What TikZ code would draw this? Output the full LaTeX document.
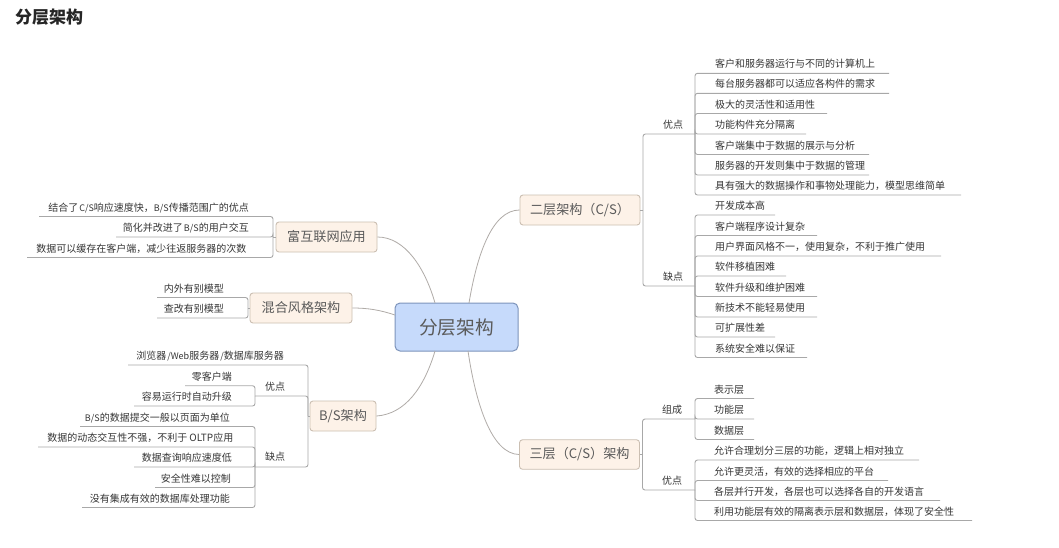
\documentclass[tikz,border=0pt]{standalone}
\usepackage{fontspec}
\setmainfont{Noto Sans CJK SC}
\definecolor{linegray}{HTML}{A8A8A8}
\definecolor{curvegray}{HTML}{B0ACA8}
\definecolor{inktext}{HTML}{363636}
\definecolor{maintext}{HTML}{5A5A5A}
\definecolor{CBBFB2}{HTML}{CBBFB2}
\definecolor{FDF2E8}{HTML}{FDF2E8}
\definecolor{7D94BB}{HTML}{7D94BB}
\definecolor{C6DAFB}{HTML}{C6DAFB}
\tikzset{
  conn/.style={draw=linegray,line width=0.9pt,rounded corners=2.5pt},
  curve/.style={draw=curvegray,line width=0.8pt},
  rowtxt/.style={inner sep=0pt,text=inktext,font=\fontsize{10}{12}\selectfont},
  mainbox/.style={draw=CBBFB2,fill=FDF2E8,line width=0.9pt,rounded corners=3pt,inner sep=0pt,text=maintext,font=\fontsize{13.1}{15}\selectfont},
  rootbox/.style={draw=7D94BB,fill=C6DAFB,line width=1pt,rounded corners=5pt,inner sep=0pt,text=maintext,font=\fontsize{18.7}{22}\selectfont},
}
% right-growing row: id, hub, line y, text x, line end x, text
\newcommand{\rowR}[6]{%
  \coordinate (#1e) at (#5,#3);
  \node[rowtxt,anchor=base west] (#1) at (#4,#3-5.4) {#6};
  \draw[conn] (#2) |- (#1e);
}
% left-growing row: id, hub, line y, text right x, line end x, text
\newcommand{\rowL}[6]{%
  \coordinate (#1e) at (#5,#3);
  \node[rowtxt,anchor=base east] (#1) at (#4,#3-5.4) {#6};
  \draw[conn] (#2) |- (#1e);
}
\newcommand{\mainbox}[6]{%
  \node[mainbox,minimum width=#4pt,minimum height=#5pt] (#1) at (#2,#3) {#6};
}
\newcommand{\lat}[1]{{\fontsize{9}{12}\selectfont #1}}
\begin{document}
\begin{tikzpicture}[x=1pt,y=-1pt]
\useasboundingbox (0,0) rectangle (1059,547);
\fill[white] (0,0) rectangle (1059,547);
\node[inner sep=0pt,anchor=base west,text=black!85,font=\fontsize{17}{20}\selectfont\bfseries] (title) at (15,23) {分层架构};

\node[rootbox,minimum width=123pt,minimum height=48pt] (root) at (456.5,327) {分层架构};
\mainbox{cs}{580}{210}{120}{30}{二层架构（C/S）}
\mainbox{tcs}{579.5}{454.5}{120}{29.5}{三层（C/S）架构}
\mainbox{ria}{326.5}{237}{101}{30}{富互联网应用}
\mainbox{mix}{301}{308}{102}{30}{混合风格架构}
\mainbox{bs}{343}{416}{66}{30}{B/S架构}

% curves from the root
\coordinate (ra) at (469,303);
\coordinate (rb) at (468,351);
\coordinate (rc) at (435,351);
\coordinate (rd) at (395,315);
\coordinate (re) at (435,303);
\draw[curve] (ra) .. controls (477,255) and (492,210) .. (cs.west);
\draw[curve] (rb) .. controls (476,405) and (492,454) .. (tcs.west);
\draw[curve] (rc) .. controls (424,388) and (405,414) .. (bs.east);
\draw[curve] (rd) .. controls (380,310) and (368,308) .. (mix.east);
\draw[curve] (re) .. controls (425,268) and (405,237) .. (ria.east);

% two-tier
\coordinate (csj) at (643,210);
\coordinate (csa) at (695,134);
\coordinate (csb) at (695,286);
\draw[conn] (cs.east) -- (csj);
\draw[conn] (csj) |- (csa);
\draw[conn] (csj) |- (csb);
\node[rowtxt] (csal) at (673,125) {优点};
\node[rowtxt] (csbl) at (673,277) {缺点};
\rowR{a1}{csa}{73.3}{715}{889}{客户和服务器运行与不同的计算机上}
\rowR{a2}{csa}{93.3}{715}{889}{每台服务器都可以适应各构件的需求}
\rowR{a3}{csa}{113.5}{715}{827}{极大的灵活性和适用性}
\rowR{a4}{csa}{134}{715}{806}{功能构件充分隔离}
\rowR{a5}{csa}{154.5}{715}{869}{客户端集中于数据的展示与分析}
\rowR{a6}{csa}{175}{715}{869}{服务器的开发则集中于数据的管理}
\rowR{a7}{csa}{195}{715}{961}{具有强大的数据操作和事物处理能力，模型思维简单}
\rowR{b1}{csb}{215}{715}{775}{开发成本高}
\rowR{b2}{csb}{235.5}{715}{817}{客户端程序设计复杂}
\rowR{b3}{csb}{256}{715}{941}{用户界面风格不一，使用复杂，不利于推广使用}
\rowR{b4}{csb}{276}{715}{786}{软件移植困难}
\rowR{b5}{csb}{296.5}{715}{817}{软件升级和维护困难}
\rowR{b6}{csb}{317}{715}{817}{新技术不能轻易使用}
\rowR{b7}{csb}{337}{715}{775}{可扩展性差}
\rowR{b8}{csb}{357.5}{715}{807}{系统安全难以保证}

% three-tier
\coordinate (tj) at (642.5,454.5);
\coordinate (ta) at (695,419);
\coordinate (tb) at (695,490);
\draw[conn] (tcs.east) -- (tj);
\draw[conn] (tj) |- (ta);
\draw[conn] (tj) |- (tb);
\node[rowtxt] (tal) at (672,409.5) {组成};
\node[rowtxt] (tbl) at (672,481) {优点};
\rowR{c1}{ta}{398.5}{714}{754}{表示层}
\rowR{c2}{ta}{419}{714}{754}{功能层}
\rowR{c3}{ta}{439.5}{714}{754}{数据层}
\rowR{d1}{tb}{460}{714}{919}{允许合理划分三层的功能，逻辑上相对独立}
\rowR{d2}{tb}{480.5}{714}{888}{允许更灵活，有效的选择相应的平台}
\rowR{d3}{tb}{500.5}{714}{940}{各层并行开发，各层也可以选择各自的开发语言}
\rowR{d4}{tb}{520.5}{714}{972}{利用功能层有效的隔离表示层和数据层，体现了安全性}

% rich internet
\coordinate (riaj) at (273,237);
\draw[conn] (ria.west) -- (riaj);
\rowL{e1}{riaj}{216.5}{249}{39}{结合了\kern1pt\lat{C/S}响应速度快，\lat{B/S}传播范围广的优点}
\rowL{e2}{riaj}{237}{249}{116}{简化并改进了\kern1pt\lat{B/S}的用户交互}
\rowL{e3}{riaj}{257.5}{246.5}{27}{数据可以缓存在客户端，减少往返服务器的次数}

% mixed
\coordinate (mixj) at (248,308);
\draw[conn] (mix.west) -- (mixj);
\rowL{f1}{mixj}{297.5}{224}{157}{内外有别模型}
\rowL{f2}{mixj}{318}{224}{157}{查改有别模型}

% B/S
\coordinate (bsj) at (308,416);
\coordinate (bsa) at (255,396);
\coordinate (bsb) at (255,467);
\draw[conn] (bs.west) -- (bsj);
\node[rowtxt,anchor=base east] (g0) at (284,359.6) {浏览器\kern1pt\lat{/Web}服务器\kern1pt\lat{/}数据库服务器};
\coordinate (g0e) at (128,365);
\draw[conn] (bsj) |- (g0e);
\draw[conn] (bsj) |- (bsa);
\draw[conn] (bsj) |- (bsb);
\node[rowtxt] (bsal) at (275,387) {优点};
\node[rowtxt] (bsbl) at (275,457) {缺点};
\rowL{h1}{bsa}{385.7}{232}{185}{零客户端}
\rowL{h2}{bsa}{406}{232}{134}{容易运行时自动升级}
\rowL{i1}{bsb}{426.5}{230}{80}{\lat{B/S}的数据提交一般以页面为单位}
\rowL{i2}{bsb}{447}{233.5}{38}{数据的动态交互性不强，不利于\kern2pt OLTP应用}
\rowL{i3}{bsb}{467}{232}{134}{数据查询响应速度低}
\rowL{i4}{bsb}{487.5}{231}{155}{安全性难以控制}
\rowL{i5}{bsb}{507.5}{230}{82}{没有集成有效的数据库处理功能}
\end{tikzpicture}
\end{document}
